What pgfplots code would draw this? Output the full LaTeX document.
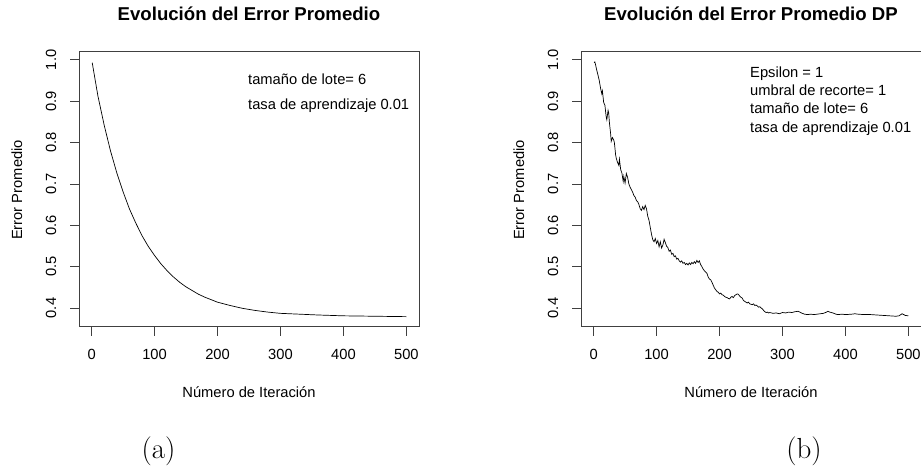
\documentclass[border=0pt]{standalone}
\usepackage{fontspec}
\usepackage{pgfplots}
\pgfplotsset{compat=1.18}
\newfontfamily\arial{Liberation Sans}
\newcommand\tickfont{\arial\fontsize{14.7}{16}\selectfont}
\pgfplotsset{rstyle/.style={
  scale only axis, width=340pt, height=275pt, anchor=south west,
  xmin=-20, xmax=520, ymin=0.354, ymax=1.019,
  xtick={0,100,200,300,400,500},
  ytick={0.4,0.5,0.6,0.7,0.8,0.9,1.0},
  xtick pos=bottom, ytick pos=left,
  tick align=outside, major tick length=9pt,
  every tick/.style={black!75, line width=0.8pt},
  axis line style={black!75, line width=1pt},
  tick label style={font=\tickfont},
  /pgf/number format/assume math mode=true,
  yticklabel style={/pgf/number format/fixed, /pgf/number format/fixed zerofill, /pgf/number format/precision=1, rotate=90, anchor=base},
  xticklabel style={anchor=base},
  xticklabel shift=24pt,
  yticklabel shift=14pt,
}}
\pgfplotstableread{
x y
1 0.993
10 0.913
20 0.842
30 0.780
40 0.727
50 0.681
60 0.640
70 0.606
80 0.575
90 0.549
100 0.527
110 0.507
120 0.490
130 0.475
140 0.462
150 0.451
160 0.442
170 0.433
180 0.426
190 0.420
200 0.414
220 0.406
240 0.399
260 0.394
280 0.390
300 0.387
330 0.385
360 0.383
400 0.381
450 0.380
500 0.379
}\seriesA
\pgfplotstableread{
x y
1 0.993
2 0.995
3 0.989
5 0.975
7 0.963
9 0.950
11 0.932
13 0.918
14 0.925
16 0.897
18 0.890
20 0.862
21 0.855
23 0.878
24 0.872
25 0.850
27 0.822
28 0.803
30 0.812
32 0.806
33 0.800
35 0.770
36 0.762
38 0.752
40 0.745
41 0.760
43 0.735
45 0.726
47 0.706
48 0.718
50 0.702
52 0.725
54 0.716
56 0.700
58 0.692
60 0.686
62 0.680
64 0.672
66 0.668
68 0.660
70 0.657
72 0.650
74 0.640
76 0.636
78 0.645
80 0.638
82 0.648
84 0.640
86 0.622
88 0.612
90 0.595
92 0.578
94 0.565
96 0.560
98 0.568
100 0.556
102 0.563
104 0.548
106 0.560
108 0.545
110 0.552
112 0.566
114 0.558
116 0.549
118 0.546
120 0.537
122 0.540
124 0.530
126 0.532
128 0.524
130 0.526
132 0.518
134 0.520
136 0.514
138 0.511
140 0.514
142 0.508
144 0.510
146 0.505
148 0.508
150 0.504
152 0.509
154 0.505
156 0.510
158 0.507
160 0.512
162 0.508
164 0.515
166 0.510
168 0.514
170 0.505
172 0.500
174 0.494
176 0.490
178 0.487
180 0.484
182 0.475
184 0.470
186 0.468
188 0.462
190 0.455
192 0.448
194 0.444
196 0.440
198 0.438
200 0.434
202 0.436
204 0.432
206 0.431
208 0.428
210 0.426
212 0.425
214 0.423
216 0.422
218 0.426
220 0.428
222 0.425
224 0.430
226 0.432
228 0.434
230 0.433
232 0.429
234 0.426
236 0.424
238 0.418
240 0.416
242 0.414
244 0.412
246 0.414
248 0.410
250 0.409
252 0.408
254 0.410
256 0.406
258 0.407
260 0.405
262 0.402
264 0.403
266 0.400
268 0.398
270 0.394
272 0.391
274 0.389
276 0.390
278 0.388
280 0.389
285 0.387
290 0.388
295 0.386
300 0.389
305 0.388
310 0.390
315 0.389
320 0.391
325 0.392
330 0.388
335 0.385
340 0.384
345 0.385
350 0.384
355 0.385
360 0.386
365 0.387
370 0.390
372 0.392
375 0.390
380 0.388
385 0.385
388 0.384
395 0.385
400 0.384
410 0.385
415 0.386
420 0.385
430 0.384
440 0.384
450 0.383
460 0.382
470 0.381
480 0.380
485 0.381
490 0.386
495 0.382
500 0.381
}\seriesB
\begin{document}
\begin{tikzpicture}[x=1pt,y=1pt]
\useasboundingbox (0,0) rectangle (921,470);
\begin{axis}[rstyle, at={(79pt,143pt)}]
\addplot[black, line width=0.7pt] table[x=x,y=y]{\seriesA};
\end{axis}
\begin{axis}[rstyle, at={(581pt,143pt)}]
\addplot[black, line width=0.7pt] table[x=x,y=y]{\seriesB};
\end{axis}
% titles
\node[anchor=base, font=\arial\bfseries\fontsize{18.6}{20}\selectfont] at (249,449) {Evolución del Error Promedio};
\node[anchor=base, font=\arial\bfseries\fontsize{18.6}{20}\selectfont] at (751,449) {Evolución del Error Promedio DP};
% axis labels
\node[anchor=base, font=\tickfont] at (249,72) {Número de Iteración};
\node[anchor=base, font=\tickfont] at (751,72) {Número de Iteración};
\node[anchor=base, rotate=90, font=\tickfont] at (22,280) {Error Promedio};
\node[anchor=base, rotate=90, font=\tickfont] at (524,280) {Error Promedio};
% annotations
\node[anchor=base west, inner sep=0pt, font=\tickfont] at (248,385) {tamaño de lote= 6};
\node[anchor=base west, inner sep=0pt, font=\tickfont] at (248,360.5) {tasa de aprendizaje 0.01};
\node[anchor=base west, inner sep=0pt, font=\tickfont] at (750,392.5) {Epsilon = 1};
\node[anchor=base west, inner sep=0pt, font=\tickfont] at (750,374) {umbral de recorte= 1};
\node[anchor=base west, inner sep=0pt, font=\tickfont] at (750,356) {tamaño de lote= 6};
\node[anchor=base west, inner sep=0pt, font=\tickfont] at (750,337.3) {tasa de aprendizaje 0.01};
% captions
\node[anchor=base, font=\fontsize{29}{30}\selectfont] at (158.5,11) {(a)};
\node[anchor=base, font=\fontsize{29}{30}\selectfont] at (804,11) {(b)};
\end{tikzpicture}
\end{document}
